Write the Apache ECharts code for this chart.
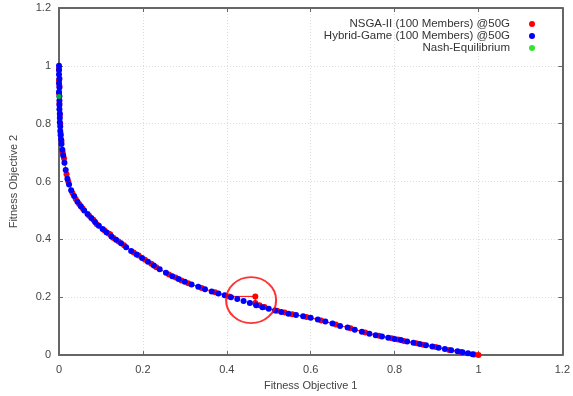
<!DOCTYPE html>
<html>
<head>
<meta charset="utf-8">
<script src="https://cdn.jsdelivr.net/npm/echarts@6/dist/echarts.min.js"></script>
<style>
  html, body { margin: 0; padding: 0; background: #fff; }
  #chart { width: 573px; height: 396px; }
</style>
</head>
<body>
<div id="chart"></div>
<script>
const xTicks = { min: 0, max: 1.2, interval: 0.2 }
const yTicks = { min: 0, max: 1.2, interval: 0.2 }

const legendNames = ['NSGA-II (100 Members) @50G', 'Hybrid-Game (100 Members) @50G', 'Nash-Equilibrium']

const nsga = [
  [0, 0.99], [0, 0.95], [0.001, 0.93], [0, 0.905], [0.001, 0.87], [0.002, 0.83], [0.003, 0.8],
  [0.004, 0.765], [0.006, 0.74], [0.009, 0.7], [0.012, 0.68], [0.018, 0.625], [0.022, 0.6],
  [0.032, 0.56], [0.04, 0.54], [0.048, 0.522], [0.056, 0.508], [0.072, 0.482], [0.082, 0.468],
  [0.09, 0.452], [0.108, 0.432], [0.118, 0.42], [0.122, 0.418], [0.13, 0.405], [0.142, 0.393],
  [0.155, 0.38], [0.178, 0.355], [0.19, 0.344], [0.205, 0.33], [0.22, 0.316], [0.232, 0.304],
  [0.262, 0.279], [0.278, 0.268], [0.292, 0.258], [0.308, 0.248], [0.34, 0.232], [0.372, 0.217],
  [0.406, 0.203], [0.468, 0.203], [0.468, 0.18], [0.478, 0.172], [0.49, 0.166], [0.52, 0.153],
  [0.538, 0.147], [0.556, 0.141], [0.59, 0.132], [0.625, 0.12], [0.66, 0.106], [0.695, 0.093],
  [0.73, 0.078], [0.763, 0.067], [0.793, 0.058], [0.808, 0.054], [0.822, 0.049], [0.852, 0.041],
  [0.868, 0.036], [0.898, 0.028], [0.93, 0.018], [0.958, 0.011], [0.99, 0.002], [1.0, 0.0]
]

const hybrid = [
  [0, 1.0], [0, 0.985], [0, 0.97], [0.001, 0.955], [0, 0.94], [0.001, 0.925], [0, 0.91],
  [0.001, 0.895], [0.001, 0.88], [0.001, 0.865], [0.001, 0.85], [0.002, 0.835], [0.002, 0.82],
  [0.002, 0.805], [0.003, 0.79], [0.003, 0.775], [0.004, 0.76], [0.005, 0.745], [0.006, 0.73],
  [0.008, 0.71], [0.01, 0.69], [0.013, 0.665], [0.016, 0.64], [0.02, 0.61], [0.024, 0.59],
  [0.029, 0.57], [0.036, 0.55], [0.044, 0.53], [0.052, 0.515], [0.06, 0.5], [0.068, 0.488],
  [0.077, 0.474], [0.086, 0.46], [0.095, 0.447], [0.104, 0.436], [0.113, 0.425], [0.125, 0.41],
  [0.136, 0.399], [0.148, 0.387], [0.16, 0.373], [0.172, 0.36], [0.185, 0.348], [0.198, 0.336],
  [0.212, 0.323], [0.226, 0.31], [0.24, 0.297], [0.255, 0.285], [0.27, 0.273], [0.285, 0.263],
  [0.3, 0.254], [0.316, 0.244], [0.332, 0.236], [0.348, 0.228], [0.364, 0.22], [0.38, 0.213],
  [0.395, 0.207], [0.41, 0.2], [0.425, 0.194], [0.44, 0.187], [0.455, 0.18], [0.47, 0.172],
  [0.485, 0.165], [0.5, 0.16], [0.515, 0.154], [0.53, 0.149], [0.547, 0.143], [0.565, 0.139],
  [0.582, 0.134], [0.6, 0.129], [0.617, 0.123], [0.635, 0.116], [0.652, 0.109], [0.67, 0.101],
  [0.688, 0.095], [0.705, 0.088], [0.722, 0.081], [0.74, 0.074], [0.755, 0.069], [0.77, 0.064],
  [0.785, 0.06], [0.8, 0.056], [0.815, 0.052], [0.83, 0.047], [0.845, 0.043], [0.86, 0.038],
  [0.875, 0.034], [0.89, 0.03], [0.905, 0.025], [0.92, 0.021], [0.935, 0.017], [0.95, 0.013],
  [0.962, 0.01], [0.975, 0.006], [0.986, 0.003]
]

const nash = [[0, 0.894]]

// highlighted region (red ring)
const highlight = [[0.458, 0.19]]

const FONT = "'Liberation Sans', Arial, sans-serif"
const TEXT = '#444'

const axisCommon = {
  type: 'value',
  axisLine: { show: true, onZero: false, lineStyle: { color: '#666', width: 2 } },
  axisTick: { show: true, inside: true, length: 4, lineStyle: { color: '#666' } },
  axisLabel: { color: TEXT, fontSize: 11, fontFamily: FONT },
  splitLine: { show: true, lineStyle: { color: '#ddd', type: [1, 2] } }
}

const chart = echarts.init(document.getElementById('chart'))

chart.setOption({
  backgroundColor: '#fff',
  animation: false,
  grid: { left: 59, right: 10, top: 8, bottom: 40 },
  legend: {
    orient: 'vertical',
    right: 33,
    top: 13,
    align: 'right',
    itemWidth: 6,
    itemHeight: 6,
    itemGap: 0,
    data: legendNames.map(name => ({ name, icon: 'circle' })),
    textStyle: { color: '#333', fontSize: 11.5, fontFamily: FONT, lineHeight: 12, padding: [0, 14, 0, 0] }
  },
  xAxis: [
    Object.assign({}, axisCommon, xTicks, {
      name: 'Fitness Objective 1',
      nameLocation: 'middle',
      nameGap: 24,
      nameTextStyle: { color: TEXT, fontSize: 11, fontFamily: FONT },
      axisLabel: { color: TEXT, fontSize: 11, fontFamily: FONT, margin: 9 }
    }),
    Object.assign({}, axisCommon, xTicks, {
      position: 'top',
      axisLabel: { show: false },
      splitLine: { show: false }
    })
  ],
  yAxis: [
    Object.assign({}, axisCommon, yTicks, {
      name: 'Fitness Objective 2',
      nameLocation: 'middle',
      nameGap: 40,
      nameTextStyle: { color: TEXT, fontSize: 11, fontFamily: FONT },
      axisLabel: { color: TEXT, fontSize: 11, fontFamily: FONT, margin: 8 }
    }),
    Object.assign({}, axisCommon, yTicks, {
      position: 'right',
      axisLabel: { show: false },
      splitLine: { show: false }
    })
  ],
  series: [
    {
      name: legendNames[0],
      type: 'line',
      data: nsga,
      symbol: 'circle',
      symbolSize: 6,
      itemStyle: { color: '#ff0000' },
      lineStyle: { color: '#ff0000', width: 1 },
      z: 2
    },
    {
      name: legendNames[1],
      type: 'line',
      data: hybrid,
      symbol: 'circle',
      symbolSize: 6,
      itemStyle: { color: '#0000ff' },
      lineStyle: { color: '#0000ff', width: 0.6, type: [1, 2] },
      z: 3
    },
    {
      name: legendNames[2],
      type: 'scatter',
      data: nash,
      symbol: 'circle',
      symbolSize: 5,
      itemStyle: { color: '#00dd00' },
      z: 4
    },
    {
      type: 'scatter',
      data: highlight,
      symbol: 'circle',
      symbolSize: [50, 46],
      itemStyle: { color: 'rgba(0,0,0,0)', borderColor: '#ff0000', borderWidth: 2 },
      silent: true,
      z: 5
    }
  ]
})
</script>
</body>
</html>
